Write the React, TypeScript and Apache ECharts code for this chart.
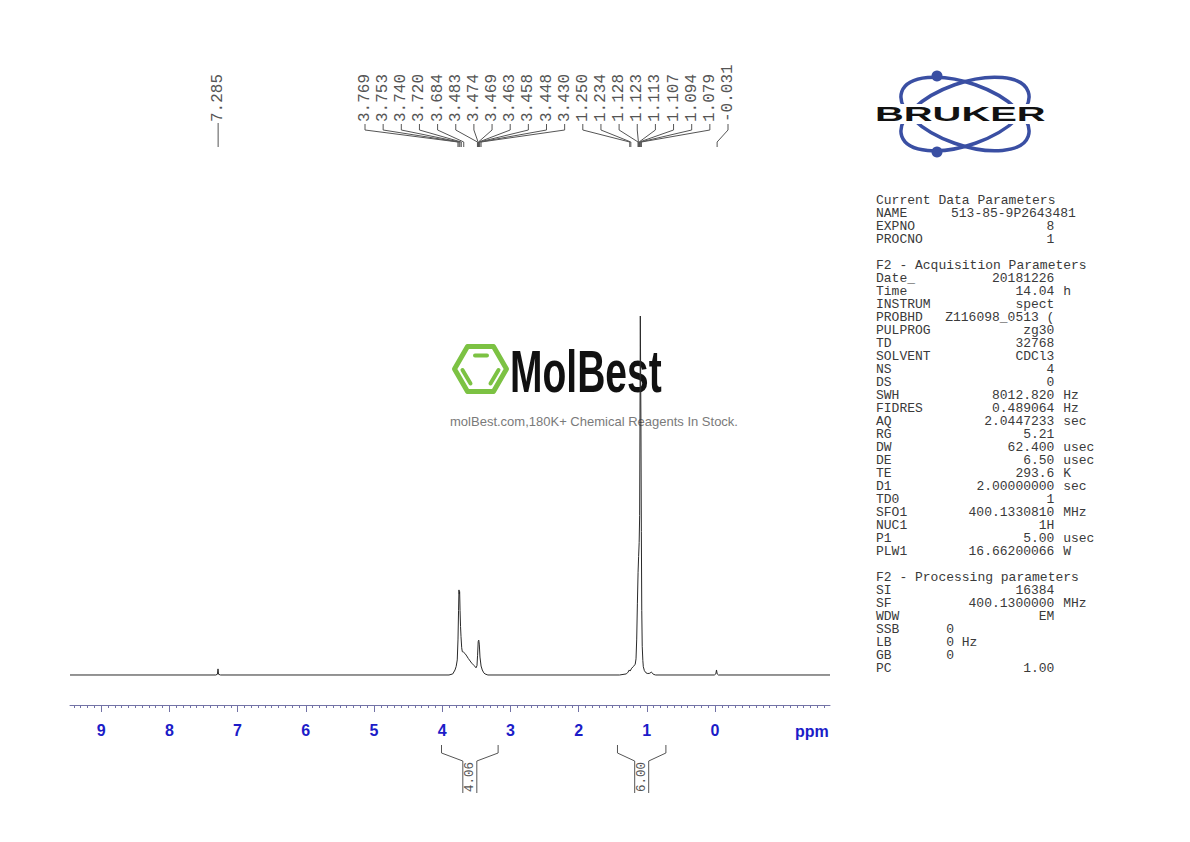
import React, { useEffect, useRef } from "react";
import * as echarts from "echarts";

// ---------------- data ----------------
const X_MIN = -1.686;
const X_MAX = 9.457;
const Y_MIN = -8.357;
const Y_MAX = 100;

const majorTicks = [9, 8, 7, 6, 5, 4, 3, 2, 1, 0];

// spectrum trace [ppm, relative intensity]
const spectrum: [number, number][] = [
  [9.457, 0], [7.32, 0], [7.296, 0.2], [7.287, 1.7], [7.279, 0.2], [7.25, 0],
  [3.9, 0], [3.845, 0.3], [3.812, 1.4], [3.795, 2.4], [3.779, 4.2], [3.768, 10],
  [3.76, 18], [3.754, 23.7], [3.749, 22.6], [3.744, 23.2], [3.738, 18], [3.731, 13.5],
  [3.724, 10.7], [3.714, 7.6], [3.705, 6.5], [3.69, 6.4], [3.666, 6.0], [3.64, 5.3],
  [3.617, 4.6], [3.59, 3.9], [3.567, 3.3], [3.53, 2.6], [3.504, 2.0], [3.49, 2.6],
  [3.481, 5.5], [3.472, 9.3], [3.464, 9.7], [3.456, 8.6], [3.446, 5.0], [3.43, 2.5],
  [3.412, 1.4], [3.39, 0.6], [3.372, 0.3], [3.33, 0],
  [1.4, 0], [1.3, 0.3], [1.275, 0.8], [1.257, 1.4], [1.245, 1.1], [1.221, 1.9],
  [1.195, 2.4], [1.17, 3.0], [1.158, 4.5], [1.148, 10], [1.138, 20], [1.128, 28.6],
  [1.12, 33], [1.112, 36.9], [1.105, 44.4], [1.1, 70], [1.095, 100], [1.09, 100],
  [1.086, 70], [1.08, 40], [1.074, 18], [1.067, 8], [1.058, 4], [1.051, 2.3],
  [1.035, 1.2], [1.012, 0.6], [0.985, 0.4], [0.955, 0.5], [0.935, 0.8], [0.925, 0.7],
  [0.905, 0.2], [0.87, 0],
  [0.01, 0], [-0.012, 0.3], [-0.022, 1.4], [-0.032, 0.3], [-0.05, 0], [-1.686, 0],
];

// peak picking labels (ppm)
const peakLabels = [
  7.285, 3.769, 3.753, 3.74, 3.72, 3.684, 3.483, 3.474, 3.469, 3.463, 3.458, 3.448,
  3.43, 1.25, 1.234, 1.128, 1.123, 1.113, 1.107, 1.094, 1.079, -0.031,
];

// integrals: ppm range and value
const integralFrom = [4.01, 1.43];
const integralTo = [3.18, 0.72];
const integralValues = [4.06, 6.0];

// parameter listing
const paramLabels = [
  "Current Data Parameters", "NAME", "EXPNO", "PROCNO", "",
  "F2 - Acquisition Parameters", "Date_", "Time", "INSTRUM", "PROBHD", "PULPROG", "TD",
  "SOLVENT", "NS", "DS", "SWH", "FIDRES", "AQ", "RG", "DW", "DE", "TE", "D1", "TD0",
  "SFO1", "NUC1", "P1", "PLW1", "",
  "F2 - Processing parameters", "SI", "SF", "WDW", "SSB", "LB", "GB", "PC",
];
const paramValues = [
  "", "513-85-9P2643481", "8", "1", "",
  "", "20181226", "14.04", "spect", "Z116098_0513 (", "zg30", "32768",
  "CDCl3", "4", "0", "8012.820", "0.489064", "2.0447233", "5.21", "62.400", "6.50", "293.6", "2.00000000", "1",
  "400.1330810", "1H", "5.00", "16.66200066", "",
  "", "16384", "400.1300000", "EM", "0", "0", "0", "1.00",
];
const paramUnits = [
  "", "", "", "", "",
  "", "", "h", "", "", "", "",
  "", "", "", "Hz", "Hz", "sec", "", "usec", "usec", "K", "sec", "",
  "MHz", "", "usec", "W", "",
  "", "", "MHz", "", "", "Hz", "", "",
];

const watermarkTitle = "MolBest";
const watermarkText = "molBest.com,180K+ Chemical Reagents In Stock.";
const logoText = "BRUKER";

// ---------------- styling constants ----------------
const MONO = '"Liberation Mono", monospace';
const SANS = '"Liberation Sans", Arial, sans-serif';
const AXIS_COLOR = "#7272a6";
const LABEL_BLUE = "#1c1cc8";
const ANNOT = "#555555";
const LABEL_X0 = 365;
const LABEL_STEP = 18.15;

function buildMinorTicks(): number[] {
  const out: number[] = [];
  for (let k = -16; k <= 94; k++) out.push(k / 10);
  return out;
}

function buildParamGraphics(): any[] {
  const els: any[] = [];
  const x0 = 876;
  const cw = 7.8;
  const valueRight = x0 + 23 * cw - 1;
  const unitLeft = x0 + 24 * cw;
  paramLabels.forEach((lab, i) => {
    const y = 200 + i * 13;
    const st = { fontSize: 13, fontFamily: MONO, fill: "#3a3a3a", verticalAlign: "middle" };
    if (lab) {
      els.push({ type: "text", x: x0, y, style: { ...st, text: lab, align: "left" } });
    }
    const v = paramValues[i];
    const u = paramUnits[i];
    if (lab === "NAME") {
      els.push({ type: "text", x: 951, y, style: { ...st, text: v, align: "left" } });
    } else if (lab === "SSB" || lab === "LB" || lab === "GB") {
      els.push({ type: "text", x: x0 + 9 * cw, y, style: { ...st, text: v, align: "left" } });
      if (u) els.push({ type: "text", x: x0 + 11 * cw, y, style: { ...st, text: u, align: "left" } });
    } else {
      if (v) els.push({ type: "text", x: valueRight, y, style: { ...st, text: v, align: "right" } });
      if (u) els.push({ type: "text", x: unitLeft, y, style: { ...st, text: u, align: "left" } });
    }
  });
  return els;
}

function buildLogo(): any[] {
  const blue = "#3a4fa3";
  return [
    {
      type: "group", x: 965, y: 114,
      children: [
        { type: "ellipse", rotation: -0.34, shape: { cx: 0, cy: 0, rx: 67, ry: 31 }, style: { fill: "none", stroke: blue, lineWidth: 3.5 } },
        { type: "ellipse", rotation: 0.34, shape: { cx: 0, cy: 0, rx: 67, ry: 31 }, style: { fill: "none", stroke: blue, lineWidth: 3.5 } },
      ],
    },
    { type: "circle", shape: { cx: 937, cy: 76, r: 5.5 }, style: { fill: blue } },
    { type: "circle", shape: { cx: 937, cy: 152, r: 5.5 }, style: { fill: blue } },
    { type: "rect", shape: { x: 873, y: 104, width: 184, height: 20 }, style: { fill: "#ffffff" } },
    {
      type: "text", x: 875, y: 114, scaleX: 1.9, scaleY: 1,
      style: { text: logoText, fontSize: 21, fontWeight: "bold", fontFamily: SANS, fill: "#111", align: "left", verticalAlign: "middle" },
    },
  ];
}

function buildWatermark(): any[] {
  const green = "#7cc243";
  const cx = 480.5, cy = 369, r = 26;
  const hex: number[][] = [];
  for (let k = 0; k < 6; k++) {
    const a = (Math.PI / 3) * k;
    hex.push([cx + r * Math.cos(a), cy + r * Math.sin(a)]);
  }
  return [
    { type: "polygon", shape: { points: hex }, style: { fill: "none", stroke: green, lineWidth: 5, lineJoin: "round" } },
    { type: "line", shape: { x1: 475, y1: 355.5, x2: 487, y2: 355.5 }, style: { stroke: green, lineWidth: 4, lineCap: "round" } },
    { type: "line", shape: { x1: 462.5, y1: 370, x2: 470.5, y2: 383.5 }, style: { stroke: green, lineWidth: 4, lineCap: "round" } },
    { type: "line", shape: { x1: 498.5, y1: 370, x2: 490.5, y2: 383.5 }, style: { stroke: green, lineWidth: 4, lineCap: "round" } },
    {
      type: "text", x: 510, y: 371, scaleX: 0.65, scaleY: 1,
      style: { text: watermarkTitle, fontSize: 60, fontWeight: "bold", fontFamily: SANS, fill: "#111", align: "left", verticalAlign: "middle" },
    },
    {
      type: "text", x: 594, y: 421,
      style: { text: watermarkText, fontSize: 13, fontFamily: SANS, fill: "#7a7a7a", align: "center", verticalAlign: "middle" },
    },
  ];
}

export default function App() {
  const ref = useRef<HTMLDivElement>(null);

  useEffect(() => {
    if (!ref.current) return;
    const chart = echarts.init(ref.current, undefined, { renderer: "svg" });
    const minorTicks = buildMinorTicks();

    const option: any = {
      animation: false,
      backgroundColor: "#ffffff",
      grid: { left: 70, right: 360, top: 316, bottom: 137, containLabel: false },
      xAxis: [
        {
          type: "value", min: X_MIN, max: X_MAX, inverse: true, position: "bottom",
          axisLine: { show: true, onZero: false, lineStyle: { color: AXIS_COLOR, width: 1 } },
          axisTick: { show: true, customValues: majorTicks, length: 7, lineStyle: { color: AXIS_COLOR } },
          axisLabel: {
            show: true, customValues: majorTicks, margin: 17, color: LABEL_BLUE,
            fontWeight: "bold", fontSize: 16, fontFamily: SANS,
          },
          splitLine: { show: false },
        },
        {
          type: "value", min: X_MIN, max: X_MAX, inverse: true, position: "bottom",
          axisLine: { show: false, onZero: false },
          axisTick: { show: true, customValues: minorTicks, length: 3, lineStyle: { color: AXIS_COLOR } },
          axisLabel: { show: false },
          splitLine: { show: false },
        },
      ],
      yAxis: { type: "value", min: Y_MIN, max: Y_MAX, show: false },
      series: [
        {
          type: "line", xAxisIndex: 0, yAxisIndex: 0, data: spectrum,
          symbol: "none", showSymbol: false, silent: true,
          lineStyle: { color: "#2a2a2a", width: 1 }, z: 3,
        },
        {
          type: "custom", xAxisIndex: 0, yAxisIndex: 0, clip: false, silent: true,
          data: peakLabels.map((p) => [p, 0]),
          renderItem: (params: any, api: any) => {
            const i = params.dataIndex;
            const ppm = api.value(0);
            const px = api.coord([ppm, 0])[0];
            const lone = i === 0;
            const lx = lone ? px : LABEL_X0 + (i - 1) * LABEL_STEP;
            const pts = lone
              ? [[px, 123], [px, 147]]
              : [[lx, 124], [lx, 130], [px, 142], [px, 147]];
            return {
              type: "group",
              children: [
                {
                  type: "text", x: lx, y: 122, rotation: Math.PI / 2,
                  style: { text: ppm.toFixed(3), x: 0, y: 0, fill: ANNOT, fontSize: 16, fontFamily: MONO, align: "left", verticalAlign: "middle" },
                },
                { type: "polyline", shape: { points: pts }, style: { stroke: ANNOT, lineWidth: 1, fill: "none" } },
              ],
            };
          },
        },
        {
          type: "custom", xAxisIndex: 0, yAxisIndex: 0, clip: false, silent: true,
          data: integralFrom.map((f, i) => [f, integralTo[i], integralValues[i]]),
          renderItem: (params: any, api: any) => {
            const x1 = api.coord([api.value(0), 0])[0];
            const x2 = api.coord([api.value(1), 0])[0];
            const c = (x1 + x2) / 2;
            const val = api.value(2);
            return {
              type: "group",
              children: [
                { type: "polyline", shape: { points: [[x1, 745], [x1, 753], [c - 7, 761], [c - 7, 793]] }, style: { stroke: ANNOT, lineWidth: 1, fill: "none" } },
                { type: "polyline", shape: { points: [[x2, 745], [x2, 753], [c + 7, 761], [c + 7, 793]] }, style: { stroke: ANNOT, lineWidth: 1, fill: "none" } },
                {
                  type: "text", x: c, y: 792, rotation: Math.PI / 2,
                  style: { text: Number(val).toFixed(2), x: 0, y: 0, fill: ANNOT, fontSize: 12.5, fontFamily: MONO, align: "left", verticalAlign: "middle" },
                },
              ],
            };
          },
        },
      ],
      graphic: {
        elements: [
          ...buildWatermark(),
          ...buildLogo(),
          ...buildParamGraphics(),
          {
            type: "text", x: 795, y: 731,
            style: { text: "ppm", fontSize: 16, fontWeight: "bold", fontFamily: SANS, fill: LABEL_BLUE, align: "left", verticalAlign: "middle" },
          },
        ],
      },
    };

    chart.setOption(option);
    return () => chart.dispose();
  }, []);

  return (
    <div
      ref={ref}
      style={{ position: "absolute", left: 0, top: 0, width: 1190, height: 842, background: "#fff" }}
    />
  );
}
